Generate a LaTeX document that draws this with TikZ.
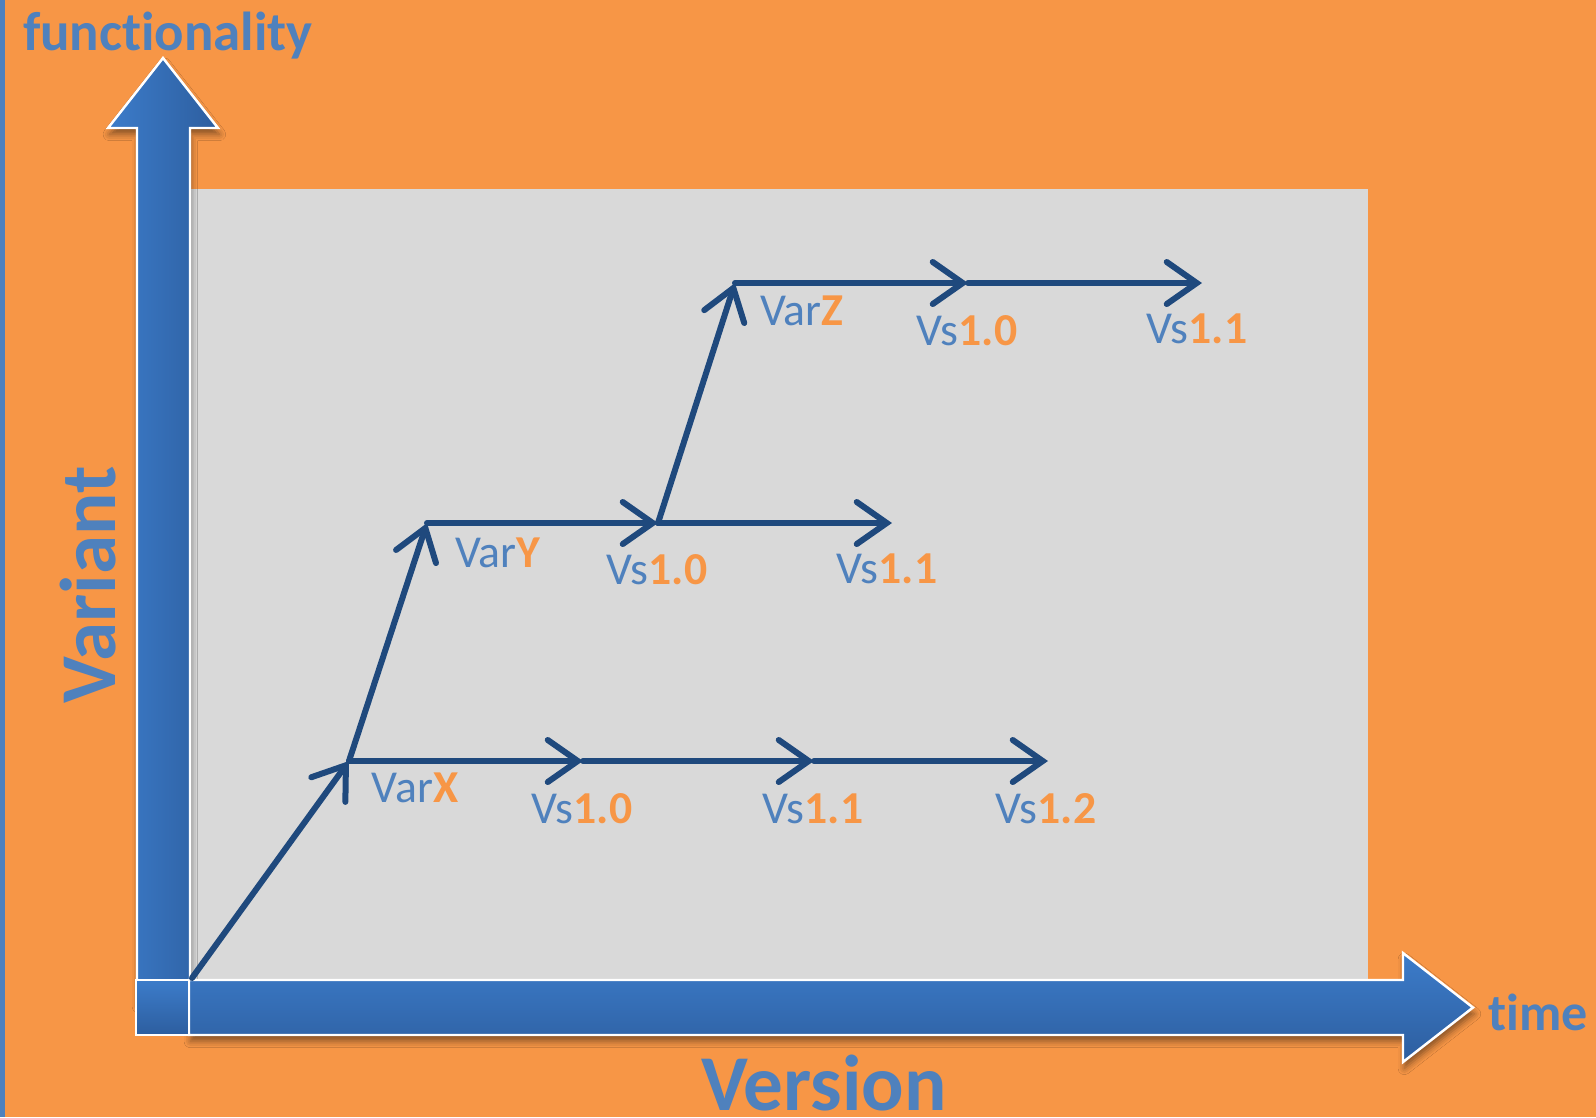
\documentclass[tikz,border=0pt]{standalone}
\usepackage{fontspec}
\setmainfont{Carlito}[Ligatures=NoCommon]
\usetikzlibrary{arrows.meta,shadows.blur}
\definecolor{bgorange}{HTML}{F79646}
\definecolor{panelgray}{HTML}{D9D9D9}
\definecolor{txtblue}{HTML}{4F81BD}
\definecolor{navy}{HTML}{1F497D}
\definecolor{axlight}{HTML}{3C7CCA}
\definecolor{axdark}{HTML}{2D5E9F}
\tikzset{
	branch/.style={draw=navy, line width=0.06cm, line cap=round,
		-{Straight Barb[length=0.3cm,width=0.42cm,line cap=round]}},
	vslabel/.style={text=txtblue, inner sep=0pt, font=\fontsize{13}{15}\selectfont},
	axisarrow/.style={draw=white, line width=0.7pt, line join=miter,
		blur shadow={shadow xshift=0.4pt, shadow yshift=-1.8pt, shadow blur radius=1.8pt, shadow opacity=45}},
	axistitle/.style={text=txtblue, inner sep=0pt, font=\fontsize{22.5}{27}\selectfont\bfseries}}
\newcommand{\hl}[1]{\textbf{\color{bgorange}#1}}

\begin{document}
\begin{tikzpicture}[x=0.01cm, y=-0.01cm]
		\fill[bgorange] (0,0) rectangle (1596,1117);
		\useasboundingbox (0,0) rectangle (1596,1117);
		\fill[txtblue] (0,0) rectangle (5,1117);
		\fill[panelgray] (190,189) rectangle (1368,1000);
		% axes
		\path[axisarrow, left color=axlight, right color=axdark]
			(137,1000) -- (137,128) -- (108,128) -- (163,58) -- (218,128) -- (190,128) -- (190,1000) -- cycle;
		\path[axisarrow, top color=axlight, bottom color=axdark]
			(189,980) -- (1403,980) -- (1403,953) -- (1473,1007.5) -- (1403,1062) -- (1403,1035) -- (189,1035) -- cycle;
		\path[draw=white, line width=0.7pt, top color=axlight, bottom color=axdark] (136,980) rectangle (189,1035);
		\node[axistitle, font=\fontsize{15.6}{18}\selectfont\bfseries] (fn) at (168,36) {functionality};
		\node[axistitle, font=\fontsize{14.8}{18}\selectfont\bfseries, anchor=base west] (tm) at (1488,1030) {time};
		\node[axistitle, anchor=base] (vn) at (824,1110) {Version};
		\node[axistitle, rotate=90, anchor=base] (vt) at (115,585) {Variant};
		% version points
		\coordinate (o) at (192,978);
		\coordinate (x0) at (349,761);
		\coordinate (x1) at (583,761);
		\coordinate (x2) at (814,761);
		\coordinate (x3) at (1048,761);
		\coordinate (y0) at (427,523);
		\coordinate (y1) at (658,523);
		\coordinate (y2) at (892,523);
		\coordinate (z0) at (735,283);
		\coordinate (z1) at (968,283);
		\coordinate (z2) at (1202,283);
		\draw[branch] (o) -- (x0);
		\draw[branch] (x0) -- (x1);
		\draw[branch] (x1) -- (x2);
		\draw[branch] (x2) -- (x3);
		\draw[branch] (x0) -- (y0);
		\draw[branch] (y0) -- (y1);
		\draw[branch] (y1) -- (y2);
		\draw[branch] (y1) -- (z0);
		\draw[branch] (z0) -- (z1);
		\draw[branch] (z1) -- (z2);
		% labels
		\node[vslabel] (lx0) at (415,788) {Var\hl{X}};
		\node[vslabel] (lx1) at (582,809) {Vs\hl{1.0}};
		\node[vslabel] (lx2) at (813,809) {Vs\hl{1.1}};
		\node[vslabel] (lx3) at (1046,809) {Vs\hl{1.2}};
		\node[vslabel] (ly0) at (498,553) {Var\hl{Y}};
		\node[vslabel] (ly1) at (657,570) {Vs\hl{1.0}};
		\node[vslabel] (ly2) at (887,569) {Vs\hl{1.1}};
		\node[vslabel] (lz0) at (802,311) {Var\hl{Z}};
		\node[vslabel] (lz1) at (967,331) {Vs\hl{1.0}};
		\node[vslabel] (lz2) at (1197,329) {Vs\hl{1.1}};
\end{tikzpicture}
\end{document}
